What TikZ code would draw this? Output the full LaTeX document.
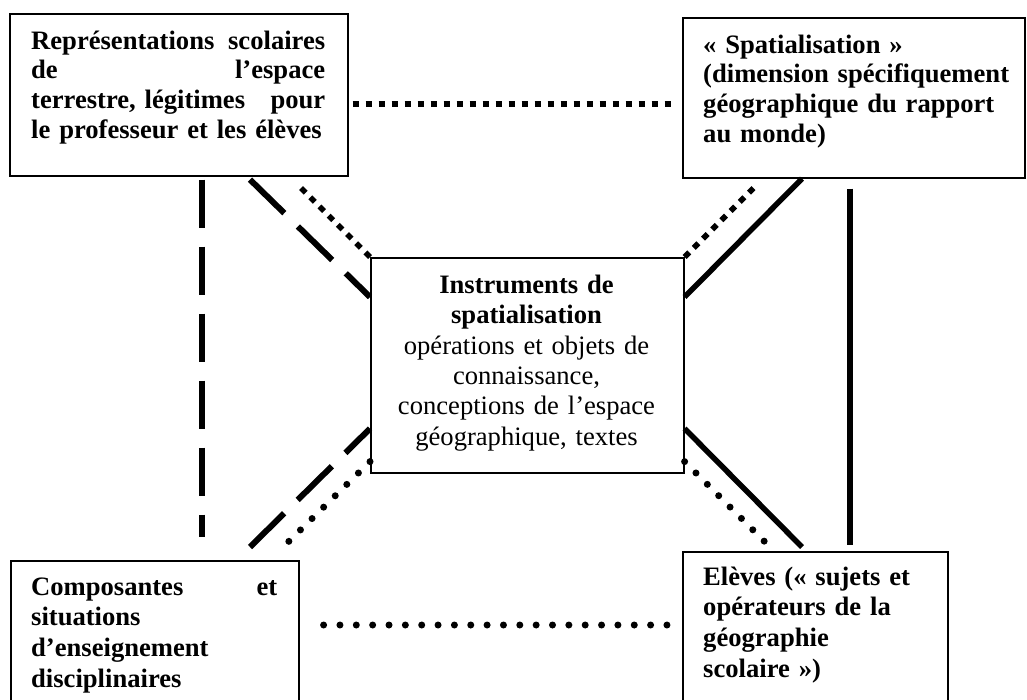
\documentclass[tikz,border=0pt]{standalone}
\usepackage{fontspec}
\setmainfont{Liberation Serif}
\usetikzlibrary{calc}
\begin{document}
\begin{tikzpicture}[x=1pt,y=-1pt,
  box/.style={draw, line width=1.6pt, inner sep=0pt, anchor=north west},
  txt/.style={anchor=north west, inner sep=0pt, align=left, font=\fontsize{26.6}{29.7}\selectfont\bfseries},
  ctxt/.style={anchor=north, inner sep=0pt, align=center, font=\fontsize{26.6}{30.4}\selectfont},
  btxt/.style={anchor=north west, inner sep=0pt, align=left, font=\fontsize{26.6}{30.6}\selectfont\bfseries},
  sqdot/.style={line width=5.5pt, dash pattern=on 6.5pt off 6.5pt},
  rdot/.style={line width=7pt, line cap=round, dash pattern=on 0pt off #1},
  ldash/.style={line width=6pt, dash pattern=on 48pt off 19pt},
  solidline/.style={line width=5.5pt}]
\useasboundingbox (0,0) rectangle (1027,699);
\clip (0,0) rectangle (1027,699);

% boxes
\node[box, minimum width=338pt, minimum height=162pt] (tl) at (9,13) {};
\node[box, minimum width=342pt, minimum height=160pt] (tr) at (682,17) {};
\node[box, minimum width=313pt, minimum height=215pt] (ctr) at (370,257) {};
\node[box, minimum width=288pt, minimum height=170pt] (bl) at (10,560) {};
\node[box, minimum width=265pt, minimum height=180pt] (br) at (682,551) {};

% texts
\node[txt, text width=294pt] (tltxt) at (31,25) {\noindent\rule{0pt}{24pt}Représentations\hfill scolaires\\ de\hfill l’espace\\ terrestre, légitimes\hfill pour\\ le professeur et les élèves};
\node[txt, text width=320pt] (trtxt) at (703,29) {\noindent\rule{0pt}{24pt}« Spatialisation »\\ (dimension spécifiquement\\ géographique du rapport\\ au monde)};
\node[ctxt, text width=305pt] (ctrtxt) at (526.5,269) {\rule{0pt}{24pt}\textbf{Instruments de}\\ \textbf{spatialisation}\\ opérations et objets de\\ connaissance,\\ conceptions de l’espace\\ géographique, textes};
\node[btxt, text width=246pt] (bltxt) at (31,571) {\noindent\rule{0pt}{24pt}Composantes\hfill et\\ situations\\ d’enseignement\\ disciplinaires};
\node[btxt, text width=240pt] (brtxt) at (703,561) {\noindent\rule{0pt}{24pt}Elèves (« sujets et\\ opérateurs de la\\ géographie\\ scolaire »)};

% connectors
\draw[sqdot] ($(tl.north east)+(4,91)$) -- ($(tr.north west)+(-5,87)$);
\draw[ldash] ($(tl.south west)+(193,3)$) -- ($(bl.north west)+(192,-23)$);
\draw[ldash] ($(tl.south west)+(241,3)$) -- ($(ctr.north west)+(0,40)$);
\draw[sqdot] (ctr.north west) -- ($(ctr.north west)+(-70,-70)$);
\draw[sqdot] (ctr.north east) -- ($(ctr.north east)+(70,-70)$);
\draw[solidline] ($(ctr.north east)+(0,40)$) -- ($(tr.south west)+(120,0)$);
\draw[solidline] ($(tr.south west)+(168,10)$) -- ($(br.north west)+(168,-6)$);
\draw[solidline] ($(ctr.south east)+(0,-45)$) -- ($(br.north west)+(120,-4)$);
\draw[rdot=16.07pt] ($(ctr.south east)+(0,-12)$) -- ($(br.north west)+(92,0)$);
\draw[rdot=16.25pt] ($(ctr.south west)+(0,-12)$) -- ($(bl.north west)+(268,-8)$);
\draw[ldash] ($(bl.north west)+(240,-13)$) -- ($(ctr.south west)+(0,-45)$);
\draw[rdot=16.35pt] ($(bl.north east)+(24,65)$) -- ($(br.north west)+(0,74)$);
\end{tikzpicture}
\end{document}
